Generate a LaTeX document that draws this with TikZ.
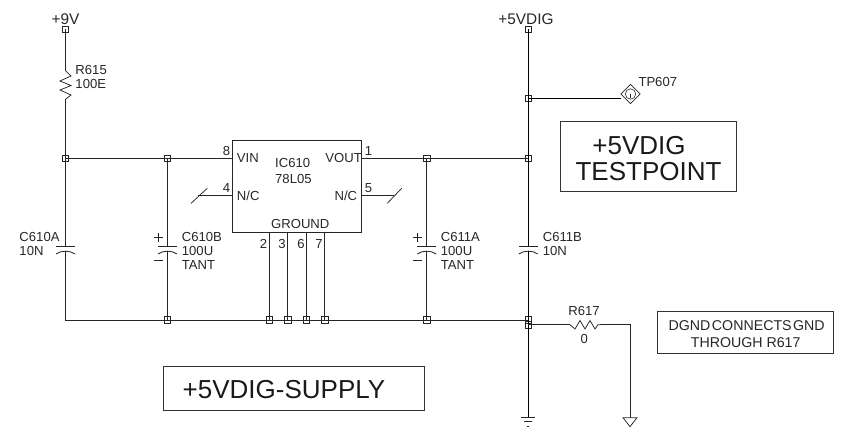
\documentclass[tikz,border=0pt]{standalone}
\usepackage{fontspec}
\setmainfont{Liberation Sans}
\newcommand{\fs}[1]{\fontsize{#1bp}{#1bp}\selectfont}
\tikzset{
  wire/.style={draw=black!85,line width=0.85bp},
  sym/.style={draw=black!85,line width=0.75bp},
  junct/.style={draw=black!85,line width=0.65bp,rectangle,minimum size=6.6bp,inner sep=0pt,fill=none},
  lbl/.style={inner sep=0pt,text=black!85,font=\fs{13.1},text height=9.4bp,text depth=0bp},
  lblw/.style={lbl,anchor=west},
  rail/.style={inner sep=0pt,text=black!85,font=\fs{15.4},text height=11bp,text depth=0bp},
  big/.style={inner sep=0pt,text=black!90,font=\fs{26},text height=18.6bp,text depth=0bp},
  mid/.style={inner sep=0pt,text=black!85,font=\fs{14.2},text height=10.2bp,text depth=0bp},
  framebox/.style={draw=black!80,line width=0.75bp,inner sep=0pt},
}
\begin{document}
\begin{tikzpicture}[x=1bp,y=-1bp]
\useasboundingbox (0,0) rectangle (842,438);
% junctions
\node[junct,minimum size=5.8bp] (t9) at (65.5,29) {};
\node[junct] (j1) at (65.5,158.3) {};
\node[junct] (j2) at (167.5,158.3) {};
\node[junct] (j3) at (426.7,158.3) {};
\node[junct] (j4) at (528.3,158.3) {};
\node[junct,minimum size=5.8bp] (t5) at (528.3,29) {};
\node[junct] (j5) at (528.3,98.3) {};
\node[junct] (b2) at (167.5,320) {};
\node[junct] (g2) at (269.3,320) {};
\node[junct] (g3) at (287.7,320) {};
\node[junct] (g6) at (306.3,320) {};
\node[junct] (g7) at (324.7,320) {};
\node[junct] (b3) at (426.7,320) {};
\node[junct] (b4) at (528.3,320) {};
\node[junct] (b5) at (528.3,324.7) {};
% IC
\node[draw=black!85,line width=0.85bp,inner sep=0pt,minimum width=129.4bp,minimum height=92.7bp] (ic) at (297,186.35) {};
\coordinate (p8) at (232.3,158.3);
\coordinate (p1) at (361.7,158.3);
\coordinate (p4) at (232.3,195.7);
\coordinate (p5) at (361.7,195.7);
\coordinate (p2) at (269.3,232.7);
\coordinate (p3) at (287.7,232.7);
\coordinate (p6) at (306.3,232.7);
\coordinate (p7) at (324.7,232.7);
\coordinate (n4) at (198,195.7);
\coordinate (n5) at (394,195.7);
\coordinate (b1) at (65.5,320);
% resistors ends
\coordinate (r1a) at (65.5,70.7);
\coordinate (r1b) at (65.5,99.3);
\coordinate (r2a) at (570,324.7);
\coordinate (r2b) at (600,324.7);
\coordinate (r2c) at (630,324.7);
\coordinate (gnda) at (630,417.7);
\coordinate (gndb) at (528.3,417);
\coordinate (tpw) at (621,98.3);
% caps
\foreach \n/\x in {ca/65.5,cb/167.5,cc/426.7,cd/528.3}{
  \coordinate (\n t) at (\x,246);
  \coordinate (\n b) at (\x,251);
  \draw[sym,line width=0.85bp] (\x-9.5,246) -- (\x+9.5,246);
  \draw[sym,line width=0.85bp] (\x-9.5,254) .. controls (\x-4,250.2) and (\x+4,250.2) .. (\x+9.5,254);
}
% polarity
\foreach \x in {158.3,417.3}{
  \draw[sym] (\x-4.5,237.3) -- (\x+4.5,237.3) (\x,232.8) -- (\x,241.8);
  \draw[sym] (\x-4.5,260) -- (\x+4.5,260);
}
% wires
\draw[wire] (t9.center) -- (r1a);
\draw[wire] (r1b) -- (j1.center);
\draw[wire] (j1.center) -- (j2.center);
\draw[wire] (j2.center) -- (p8);
\draw[wire] (j1.center) -- (cat);
\draw[wire] (cab) -- (b1) -- (b2.center);
\draw[wire] (j2.center) -- (cbt);
\draw[wire] (cbb) -- (b2.center);
\draw[wire] (b2.center) -- (g2.center);
\draw[wire] (g2.center) -- (g3.center);
\draw[wire] (g3.center) -- (g6.center);
\draw[wire] (g6.center) -- (g7.center);
\draw[wire] (g7.center) -- (b3.center);
\draw[wire] (b3.center) -- (b4.center);
\draw[wire] (p2) -- (g2.center);
\draw[wire] (p3) -- (g3.center);
\draw[wire] (p6) -- (g6.center);
\draw[wire] (p7) -- (g7.center);
\draw[wire] (p1) -- (j3.center);
\draw[wire] (j3.center) -- (j4.center);
\draw[wire] (j3.center) -- (cct);
\draw[wire] (ccb) -- (b3.center);
\draw[wire,draw=black] (t5.center) -- (j5.center);
\draw[wire,draw=black] (j5.center) -- (j4.center);
\draw[wire,draw=black] (j4.center) -- (cdt);
\draw[wire,draw=black] (cdb) -- (b4.center);
\draw[wire,draw=black] (b4.center) -- (b5.center);
\draw[wire,draw=black] (b5.center) -- (gndb);
\draw[wire,draw=black] (j5.center) -- (tpw);
\draw[wire] (b5.center) -- (r2a);
\draw[wire] (r2b) -- (r2c) -- (gnda);
\draw[wire] (n4) -- (p4);
\draw[wire] (p5) -- (n5);
% no-connect slashes
\draw[sym] (191,203.3) -- (207.3,188.3);
\draw[sym] (387.3,203.3) -- (401.7,188.3);
% resistors
\draw[sym] (r1a) -- (71,76) -- (60,81) -- (71,85.5) -- (60,90) -- (71,95) -- (r1b);
\draw[sym] (r2a) -- (575,329) -- (580,320.5) -- (585,329) -- (590,320.5) -- (595,329) -- (598,324.7) -- (r2b);
% grounds
\draw[sym] (gnda) ++(-7,0) -- ++(14,0) -- (630,426.7) -- cycle;
\draw[sym] (521.3,417) -- (535.3,417);
\draw[sym] (524.3,421.7) -- (532.3,421.7);
\draw[sym] (527.3,426.7) -- (529.3,426.7);
% testpoint
\draw[sym] (630.5,84.3) -- (640.2,94) -- (630.5,103.7) -- (620.8,94) -- cycle;
\draw[sym,line width=0.6bp] (630.5,94) circle (5.2);
\draw[sym,line width=0.6bp] (630.5,94) -- (630.5,98);
% boxes
\node[framebox,minimum width=176bp,minimum height=69.3bp] (bx1) at (648.7,156.35) {};
\node[framebox,minimum width=176bp,minimum height=41.3bp] (bx2) at (745.7,332.35) {};
\node[framebox,minimum width=261bp,minimum height=44bp] (bx3) at (293.5,388) {};
% text
\node[big] (tx1) at (639,145) {+5VDIG};
\node[big] (tx2) at (648.5,171.7) {TESTPOINT};
\node[big] (tx3) at (284,389) {+5VDIG-SUPPLY};
\node[mid] (tx4) at (746.7,325) {DGND\hspace{1.5bp}CONNECTS\hspace{1.5bp}GND};
\node[mid] (tx5) at (745.7,342.3) {THROUGH R617};
\node[rail] (l9) at (65.5,18.7) {+9V};
\node[rail] (l5) at (526,19) {+5VDIG};
\node[lblw] (lr1) at (75.3,70.3) {R615};
\node[lblw] (lr1v) at (75.3,84) {100E};
\node[lbl] (lr2) at (584,311) {R617};
\node[lbl] (lr2v) at (584.3,339.3) {0};
\node[lblw] (ltp) at (638.3,82.3) {TP607};
\node[lblw] (la1) at (19.3,237.3) {C610A};
\node[lblw] (la2) at (19.3,251.3) {10N};
\node[lblw] (lb1) at (181.7,237.3) {C610B};
\node[lblw] (lb2) at (181.7,251.3) {100U};
\node[lblw] (lb3) at (181.7,265) {TANT};
\node[lblw] (lc1) at (440.7,237.3) {C611A};
\node[lblw] (lc2) at (440.7,251.3) {100U};
\node[lblw] (lc3) at (440.7,265) {TANT};
\node[lblw] (ld1) at (542.7,237.3) {C611B};
\node[lblw] (ld2) at (542.7,251.3) {10N};
\node[lblw] (pvin) at (236.7,158.3) {VIN};
\node[lblw] (pnc1) at (236.7,195.7) {N/C};
\node[lbl,anchor=east] (pvout) at (362,158.3) {VOUT};
\node[lbl,anchor=east] (pnc2) at (357.3,195.7) {N/C};
\node[lblw] (ic1) at (275,163.3) {IC610};
\node[lblw] (ic2) at (275,179.3) {78L05};
\node[lbl] (ign) at (300.3,224.3) {GROUND};
\node[lbl] (n8) at (226.5,150.5) {8};
\node[lbl] (n4t) at (226.5,188) {4};
\node[lbl] (n1) at (368.5,150.5) {1};
\node[lbl] (n5t) at (368.5,188) {5};
\node[lbl] (n2) at (263.5,243.5) {2};
\node[lbl] (n3) at (282,243.5) {3};
\node[lbl] (n6) at (301,243.5) {6};
\node[lbl] (n7) at (319,243.5) {7};
\end{tikzpicture}
\end{document}
